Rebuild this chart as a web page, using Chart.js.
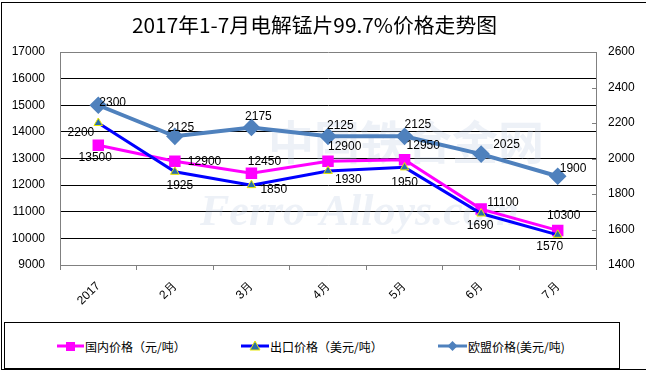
<!DOCTYPE html>
<html lang="zh">
<head>
<meta charset="UTF-8">
<title>2017年1-7月电解锰片99.7%价格走势图</title>
<script src="https://cdn.jsdelivr.net/npm/chart.js"></script>
<style>
  html, body { margin: 0; padding: 0; background: #fff; }
  #wrap { position: relative; width: 646px; height: 372px; overflow: hidden; }
  #frame { position: absolute; left: 1px; top: 2px; width: 700px; height: 368px;
           border: 1px solid #000; box-sizing: border-box; pointer-events: none; }
  #legend { position: absolute; left: 4px; top: 322px; width: 616px; height: 47px;
            border: 1px solid #000; box-sizing: border-box; background: #fff; }
  .item { position: absolute; top: 14px; height: 18px; display: flex; align-items: center;
          font: 12px "Noto Sans CJK SC", sans-serif; color: #000; white-space: nowrap; }
  .item svg { margin-right: 1px; }
</style>
</head>
<body>
<div id="wrap">
  <canvas id="chart" width="646" height="372"></canvas>
  <div id="frame"></div>
  <div id="legend"></div>
</div>
<script>
// data
const months = ['2017', '2月', '3月', '4月', '5月', '6月', '7月'];
const domestic = [13500, 12900, 12450, 12900, 12950, 11100, 10300];   // 元/吨, left axis
const exportPrice = [2200, 1925, 1850, 1930, 1950, 1690, 1570];       // 美元/吨, right axis
const euPrice = [2300, 2125, 2175, 2125, 2125, 2025, 1900];           // 美元/吨, right axis
const leftRange = [9000, 17000, 1000];
const rightRange = [1400, 2600, 200];
const seriesNames = ['国内价格（元/吨）', '出口价格（美元/吨）', '欧盟价格(美元/吨)'];
const titleText = '2017年1-7月电解锰片99.7%价格走势图';

const tickFont = { family: '"Liberation Sans", Arial, sans-serif', size: 12 };

// title, squeezed to the width it has in the reference
const titlePlugin = {
  id: 'titlePlugin',
  afterDraw(chart) {
    const ctx = chart.ctx;
    ctx.save();
    ctx.font = '20px "Noto Sans CJK SC", sans-serif';
    ctx.fillStyle = '#000';
    ctx.textBaseline = 'middle';
    ctx.textAlign = 'left';
    const w = ctx.measureText(titleText).width;
    ctx.translate(132, 25);
    ctx.scale(365 / w, 1);
    ctx.fillText(titleText, 0, 0);
    ctx.restore();
  }
};

// faint site watermark behind the lines
const watermark = {
  id: 'watermark',
  beforeDatasetsDraw(chart) {
    const ctx = chart.ctx;
    ctx.save();
    ctx.fillStyle = 'rgba(190, 205, 225, 0.28)';
    ctx.textBaseline = 'middle';
    ctx.font = 'bold 46px "Noto Sans CJK SC", sans-serif';
    ctx.fillText('中国铁合金网', 268, 142);
    ctx.font = 'italic bold 44px "Liberation Serif", serif';
    ctx.fillText('Ferro-Alloys.com', 200, 214);
    ctx.restore();
  }
};

// value labels next to each point
const pointLabels = {
  id: 'pointLabels',
  afterDatasetsDraw(chart) {
    const ctx = chart.ctx;
    ctx.save();
    ctx.font = '12px "Liberation Sans", Arial, sans-serif';
    ctx.fillStyle = '#000';
    ctx.textBaseline = 'middle';
    chart.data.datasets.forEach((ds, i) => {
      chart.getDatasetMeta(i).data.forEach((pt, j) => {
        const p = ds.labelPos[j];
        ctx.textAlign = p[2];
        ctx.fillText(ds.data[j], pt.x + p[0], pt.y + p[1]);
      });
    });
    ctx.restore();
  }
};

// small inward tick marks on the right axis
const rightTicks = {
  id: 'rightTicks',
  afterDraw(chart) {
    const s = chart.scales.y1;
    const ctx = chart.ctx;
    ctx.save();
    ctx.strokeStyle = '#808080';
    ctx.lineWidth = 1;
    s.ticks.forEach(t => {
      const y = Math.round(s.getPixelForValue(t.value)) + 0.5;
      ctx.beginPath();
      ctx.moveTo(s.left - 4, y);
      ctx.lineTo(s.left, y);
      ctx.stroke();
    });
    ctx.restore();
  }
};

const plain = v => String(v);

new Chart(document.getElementById('chart').getContext('2d'), {
  type: 'line',
  data: {
    labels: months,
    datasets: [
      {
        label: seriesNames[0], data: domestic, yAxisID: 'y', order: 2,
        borderColor: '#FF00FF', borderWidth: 3,
        pointStyle: 'rect', pointRadius: 6, pointBackgroundColor: '#FF00FF', pointBorderColor: '#FF00FF',
        labelPos: [[-3, 12, 'center'], [13, 1, 'left'], [13, -11, 'center'], [0, -14, 'left'],
                   [2, -14, 'left'], [6, -6, 'left'], [6, -15, 'center']]
      },
      {
        label: seriesNames[1], data: exportPrice, yAxisID: 'y1', order: 1,
        borderColor: '#0000FF', borderWidth: 3,
        pointStyle: 'triangle', pointRadius: 5, pointBackgroundColor: '#2A6EA8',
        pointBorderColor: '#E8E800', pointBorderWidth: 1,
        labelPos: [[-4, 10, 'right'], [5, 14, 'center'], [9, 5, 'left'], [7, 9, 'left'],
                   [0, 15, 'center'], [-1, 12, 'center'], [-8, 12, 'center']]
      },
      {
        label: seriesNames[2], data: euPrice, yAxisID: 'y1', order: 0,
        borderColor: '#4F81BD', borderWidth: 4,
        pointStyle: 'rectRot', pointRadius: 6, pointBackgroundColor: '#4F81BD', pointBorderColor: '#4F81BD',
        labelPos: [[1, -3, 'left'], [6, -9, 'center'], [7, -11, 'center'], [-1, -11, 'left'],
                   [0, -12, 'left'], [12, -9, 'left'], [2, -8, 'left']]
      }
    ]
  },
  options: {
    responsive: false,
    animation: false,
    elements: { line: { tension: 0 } },
    layout: { padding: { top: 52, bottom: 62, left: 0, right: 0 } },
    plugins: { legend: { display: false }, title: { display: false }, tooltip: { enabled: false } },
    scales: {
      x: {
        offset: true,
        grid: { offset: true, drawOnChartArea: false, drawTicks: true, tickLength: 5, color: '#808080' },
        border: { color: '#808080' },
        ticks: { minRotation: 45, maxRotation: 45, autoSkip: false, padding: 9, color: '#000', font: tickFont },
        afterFit(s) { s.height = 45; }
      },
      y: {
        position: 'left', min: leftRange[0], max: leftRange[1],
        ticks: { stepSize: leftRange[2], padding: 15, color: '#000', font: tickFont, callback: plain },
        grid: {
          drawTicks: false,
          color: c => (c.tick.value === leftRange[0] || c.tick.value === leftRange[1]) ? '#808080' : '#000'
        },
        border: { color: '#808080' },
        afterFit(s) { s.width = 60; }
      },
      y1: {
        position: 'right', min: rightRange[0], max: rightRange[1],
        ticks: { stepSize: rightRange[2], padding: 12, color: '#000', font: tickFont, callback: plain },
        grid: { drawOnChartArea: false, drawTicks: false },
        border: { color: '#808080' },
        afterFit(s) { s.width = 50; }
      }
    }
  },
  plugins: [watermark, pointLabels, rightTicks, titlePlugin]
});

// legend box like the reference
const markers = [
  '<svg width="27" height="12"><line x1="0" y1="6" x2="27" y2="6" stroke="#FF00FF" stroke-width="3"/><rect x="9" y="2" width="9" height="9" fill="#FF00FF"/></svg>',
  '<svg width="28" height="12"><line x1="0" y1="6" x2="28" y2="6" stroke="#0000FF" stroke-width="3"/><polygon points="14,1 19,10 9,10" fill="#2A6EA8" stroke="#E8E800" stroke-width="1"/></svg>',
  '<svg width="29" height="12"><line x1="0" y1="6" x2="29" y2="6" stroke="#4F81BD" stroke-width="3"/><polygon points="14.5,1 19.5,6 14.5,11 9.5,6" fill="#4F81BD"/></svg>'
];
const legendLeft = [52, 236, 433];
const legend = document.getElementById('legend');
seriesNames.forEach((name, i) => {
  const el = document.createElement('div');
  el.className = 'item';
  el.style.left = legendLeft[i] + 'px';
  el.innerHTML = markers[i] + '<span>' + name + '</span>';
  legend.appendChild(el);
});
</script>
</body>
</html>
